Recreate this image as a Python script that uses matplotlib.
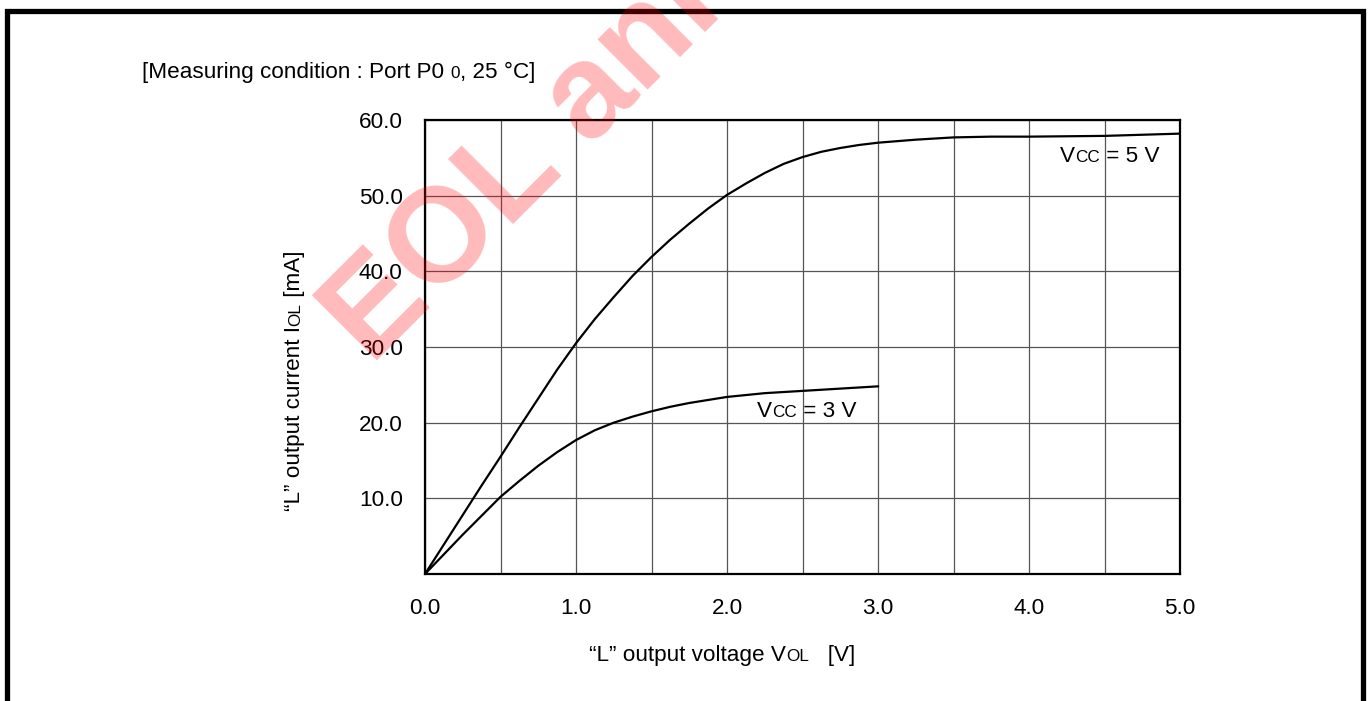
"""
Recreate the "L" output current vs "L" output voltage characteristic chart.
"""
import matplotlib
matplotlib.use('Agg')
import matplotlib.pyplot as plt
from matplotlib.lines import Line2D

plt.rcParams['font.family'] = ['Liberation Sans', 'DejaVu Sans']

# Vcc = 5 V curve
v5_vol = [0.0, 0.125, 0.25, 0.375, 0.5, 0.625, 0.75, 0.875, 1.0, 1.125, 1.25, 1.375,
          1.5, 1.625, 1.75, 1.875, 2.0, 2.125, 2.25, 2.375, 2.5, 2.625, 2.75, 2.875,
          3.0, 3.125, 3.25, 3.375, 3.5, 3.625, 3.75, 4.0, 4.5, 5.0]
v5_iol = [0.0, 3.9, 7.8, 11.7, 15.5, 19.4, 23.2, 27.0, 30.5, 33.7, 36.6, 39.4,
          41.9, 44.2, 46.3, 48.3, 50.1, 51.6, 53.0, 54.2, 55.1, 55.8, 56.3, 56.7,
          57.0, 57.2, 57.4, 57.55, 57.7, 57.75, 57.8, 57.8, 57.9, 58.2]

# Vcc = 3 V curve
v3_vol = [0.0, 0.125, 0.25, 0.375, 0.5, 0.625, 0.75, 0.875, 1.0, 1.125, 1.25, 1.375,
          1.5, 1.625, 1.75, 1.875, 2.0, 2.125, 2.25, 2.375, 2.5, 2.625, 2.75, 2.875, 3.0]
v3_iol = [0.0, 2.6, 5.2, 7.7, 10.2, 12.3, 14.3, 16.1, 17.7, 19.0, 20.0, 20.8,
          21.5, 22.1, 22.6, 23.0, 23.4, 23.65, 23.9, 24.05, 24.2, 24.35, 24.5, 24.65, 24.8]

x_ticks = [0, 1, 2, 3, 4, 5]
x_tick_labels = ['0.0', '1.0', '2.0', '3.0', '4.0', '5.0']
y_ticks = [10, 20, 30, 40, 50, 60]
y_tick_labels = ['10.0', '20.0', '30.0', '40.0', '50.0', '60.0']

W, H = 1368, 701
FS = 16.2
FS_SMALL = 12.3

fig = plt.figure(figsize=(W / 100, H / 100), dpi=100)
ax = fig.add_axes([425 / W, 1 - 574 / H, (1180 - 425) / W, (574 - 120) / H])

ax.plot(v5_vol, v5_iol, color='black', lw=1.6, zorder=3)
ax.plot(v3_vol, v3_iol, color='black', lw=1.6, zorder=3)

ax.set_xlim(0, 5)
ax.set_ylim(0, 60)
ax.set_xticks(x_ticks)
ax.set_xticklabels(x_tick_labels)
ax.set_xticks([0.5, 1.5, 2.5, 3.5, 4.5], minor=True)
ax.set_yticks(y_ticks)
ax.set_yticklabels(y_tick_labels)
ax.tick_params(which='both', length=0, labelsize=FS)
ax.tick_params(axis='x', pad=17)
ax.tick_params(axis='y', pad=16)
ax.grid(True, which='both', color='#555555', lw=0.9)
ax.set_axisbelow(True)
for sp in ax.spines.values():
    sp.set_linewidth(1.6)
    sp.set_color('black')

renderer = fig.canvas.get_renderer()


def draw_pieces(x, y, pieces, rotation=0):
    """Draw a run of text pieces (figure pixels, baseline start) with mixed sizes."""
    for s, fs in pieces:
        t = fig.text(x / W, y / H, s, fontsize=fs, rotation=rotation,
                     rotation_mode='anchor', ha='left', va='baseline')
        bb = t.get_window_extent(renderer)
        if rotation == 0:
            x += bb.width
        else:
            y += bb.height


def data_to_pix(xv, yv):
    px, py = ax.transData.transform((xv, yv))
    return px, py


# Title / measuring condition
draw_pieces(142, H - 78, [('[Measuring condition : Port P0 ', FS), ('0', FS_SMALL),
                          (', 25 °C]', FS)])

# Axis labels
draw_pieces(589, H - 661, [('\u201cL\u201d output voltage V', FS), ('OL', FS_SMALL),
                           ('   [V]', FS)])
draw_pieces(300, H - 511, [('\u201cL\u201d output current I', FS), ('OL', FS_SMALL),
                           (' [mA]', FS)], rotation=90)

# Curve labels
draw_pieces(*data_to_pix(4.205, 54.4), [('V', FS), ('CC', FS_SMALL), (' = 5 V', FS)])
draw_pieces(*data_to_pix(2.199, 20.7), [('V', FS), ('CC', FS_SMALL), (' = 3 V', FS)])

# Outer frame (open at the bottom)
frame_x = [6.5 / W, 6.5 / W, 1362.5 / W, 1362.5 / W]
frame_y = [0.0, 1 - 10.5 / H, 1 - 10.5 / H, 0.0]
fig.add_artist(Line2D(frame_x, frame_y, color='black', lw=3.8,
                      transform=fig.transFigure, solid_joinstyle='miter'))

# Watermark
fig.text(371 / W, 1 - 366 / H, 'EOL announced', fontsize=96, fontweight='bold',
         color='red', alpha=0.27, rotation=45, rotation_mode='anchor',
         ha='left', va='baseline', zorder=10)

fig.savefig('out.png', dpi=100)
